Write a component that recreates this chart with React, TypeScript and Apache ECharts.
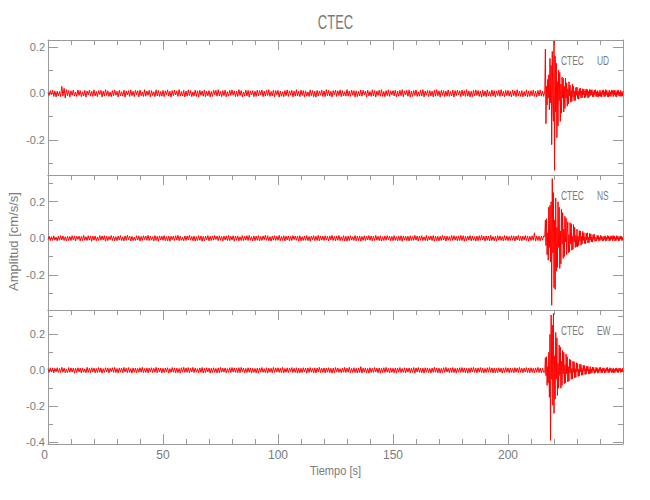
import React, { useEffect, useRef } from 'react';
import * as echarts from 'echarts';

// Sampling grid of the traces (seconds)
const NOISE_STEP = 0.5;
const BURST_START = 216;
const BURST_STEP = 0.25;

// UD component: pre-event samples t = 0..215.5 s (0.5 s apart)
const udNoise = [
  .004,-.009,.012,-.006,.014,-.013,.01,-.015,.009,-.011,.008,-.014,.03,-.012,.022,-.02,.016,-.01,.013,-.015,
  .011,-.008,.014,-.012,.006,-.013,.015,-.009,.012,-.014,.007,-.011,.013,-.016,.01,-.006,.014,-.012,.009,-.013,
  .015,-.011,.008,-.014,.012,-.005,.013,-.015,.01,-.012,.016,-.009,.011,-.013,.006,-.014,.012,-.01,.015,-.008,
  .009,-.015,.013,-.011,.007,-.012,.014,-.016,.011,-.007,.012,-.013,.015,-.01,.009,-.014,.013,-.006,.011,-.015,
  .014,-.01,.006,-.013,.016,-.012,.01,-.008,.013,-.015,.012,-.009,.007,-.014,.015,-.011,.012,-.013,.008,-.012,
  .013,-.014,.011,-.006,.015,-.012,.009,-.016,.012,-.01,.014,-.007,.011,-.013,.016,-.012,.008,-.011,.013,-.015,
  .01,-.012,.015,-.009,.012,-.014,.006,-.011,.014,-.013,.011,-.016,.013,-.008,.01,-.012,.015,-.014,.009,-.01,
  .012,-.015,.008,-.013,.014,-.006,.013,-.012,.016,-.011,.009,-.014,.012,-.01,.014,-.015,.007,-.012,.013,-.009,
  .015,-.008,.011,-.014,.01,-.013,.016,-.009,.012,-.015,.006,-.012,.014,-.011,.013,-.016,.011,-.007,.012,-.014,
  .009,-.013,.014,-.011,.012,-.007,.015,-.014,.01,-.012,.013,-.009,.016,-.013,.008,-.011,.014,-.015,.012,-.006,
  .013,-.016,.01,-.012,.007,-.014,.012,-.01,.015,-.013,.011,-.008,.013,-.015,.01,-.012,.016,-.011,.009,-.014,
  .014,-.009,.012,-.015,.011,-.012,.006,-.013,.015,-.01,.012,-.014,.009,-.016,.013,-.011,.01,-.008,.014,-.013,
  .011,-.014,.016,-.01,.013,-.012,.009,-.015,.012,-.006,.014,-.013,.011,-.009,.015,-.014,.012,-.011,.007,-.012,
  .016,-.012,.01,-.013,.014,-.008,.012,-.015,.011,-.014,.009,-.011,.015,-.012,.013,-.007,.01,-.016,.014,-.011,
  .008,-.013,.015,-.011,.012,-.016,.01,-.009,.014,-.012,.016,-.013,.008,-.014,.012,-.01,.015,-.013,.011,-.006,
  .012,-.011,.014,-.015,.009,-.012,.013,-.01,.016,-.014,.011,-.007,.013,-.012,.015,-.016,.01,-.013,.012,-.009,
  .015,-.013,.007,-.012,.014,-.011,.016,-.015,.01,-.008,.013,-.014,.012,-.011,.009,-.015,.014,-.012,.016,-.01,
  .011,-.016,.013,-.009,.012,-.014,.01,-.012,.015,-.013,.008,-.011,.014,-.016,.012,-.01,.013,-.007,.011,-.014,
  .014,-.01,.012,-.013,.016,-.012,.011,-.015,.009,-.014,.013,-.011,.015,-.009,.012,-.013,.01,-.016,.014,-.012,
  .01,-.014,.015,-.011,.008,-.013,.014,-.012,.012,-.016,.011,-.009,.014,-.013,.016,-.011,.009,-.014,.013,-.01,
  .013,-.012,.009,-.015,.014,-.01,.012,-.014,.016,-.011,.01,-.013,.012,-.015,.008,-.012,.015,-.014,.011,-.013,
  .012,-.01,.014,-.013,.009,-.015,.013,-.011,.015,-.012,.01,-.013
];
// UD component: event samples t = 216..250 s (0.25 s apart)
const udBurst = [
  .01,.19,-.13,.03,-.05,.06,-.02,.08,-.07,.15,-.04,.12,-.22,.18,-.06,-.12,.225,-.33,.16,-.08,
  .13,-.19,.05,-.14,.1,-.03,.09,-.12,.04,-.085,.07,-.02,.065,-.08,.03,-.065,.066,-.02,.045,-.055,
  .02,-.045,.05,-.01,.035,-.038,.012,-.035,.04,-.015,.03,-.032,.01,-.03,.025,-.008,.027,-.022,.01,-.025,
  .02,-.008,.023,-.02,.01,-.018,.02,-.006,.018,-.02,.012,-.017,.019,-.008,.016,-.02,.009,-.016,.017,-.01,
  .015,-.006,.016,-.014,.008,-.015,.014,-.005,.016,-.013,.007,-.015,.012,-.014,.004,-.012,.014,-.013,.006,-.016,
  .013,-.005,.015,-.014,.008,-.013,.016,-.006,.013,-.014,.005,-.015,.014,-.012,.007,-.013,.015,-.004,.012,-.014,
  .013,-.006,.014,-.013,.007,-.015,.013,-.005,.014,-.011,.006,-.013,.013,-.012,.005,-.012,.01
];

// NS component
const nsNoise = [
  -.007,.011,-.013,.009,-.012,.014,-.01,.006,-.014,.012,-.011,.015,-.009,.013,-.012,.008,-.015,.011,-.013,.01,
  -.012,.014,-.008,.013,-.015,.011,-.006,.012,-.014,.01,-.013,.016,-.011,.009,-.012,.014,-.01,.013,-.016,.012,
  -.01,.013,-.014,.007,-.012,.015,-.011,.013,-.009,.014,-.016,.012,-.013,.01,-.008,.015,-.012,.011,-.014,.009,
  -.013,.012,-.01,.015,-.012,.008,-.014,.013,-.011,.016,-.009,.012,-.015,.011,-.013,.007,-.012,.014,-.01,.013,
  -.015,.01,-.012,.014,-.007,.013,-.011,.016,-.013,.012,-.01,.009,-.014,.015,-.012,.011,-.016,.013,-.009,.012,
  -.011,.015,-.013,.009,-.014,.012,-.016,.011,-.008,.013,-.012,.014,-.01,.016,-.013,.012,-.011,.006,-.014,.013,
  -.012,.013,-.009,.016,-.011,.01,-.013,.012,-.015,.009,-.012,.014,-.011,.013,-.016,.01,-.014,.012,-.008,.015,
  -.014,.011,-.012,.013,-.01,.015,-.007,.012,-.013,.014,-.011,.01,-.015,.012,-.009,.013,-.012,.016,-.013,.011,
  -.009,.014,-.016,.012,-.011,.013,-.014,.008,-.012,.015,-.013,.011,-.01,.014,-.012,.016,-.011,.009,-.015,.013,
  -.013,.012,-.011,.015,-.014,.01,-.012,.013,-.008,.016,-.011,.014,-.013,.009,-.015,.012,-.01,.014,-.012,.011,
  -.011,.016,-.013,.01,-.012,.014,-.015,.012,-.009,.013,-.014,.011,-.012,.015,-.007,.013,-.011,.012,-.016,.014,
  -.014,.009,-.012,.013,-.011,.015,-.013,.01,-.016,.012,-.008,.014,-.013,.011,-.012,.016,-.014,.013,-.01,.012,
  -.012,.014,-.01,.011,-.015,.013,-.009,.016,-.012,.01,-.014,.013,-.011,.015,-.013,.008,-.012,.014,-.015,.011,
  -.016,.012,-.013,.014,-.01,.009,-.012,.015,-.014,.011,-.012,.013,-.016,.01,-.011,.014,-.013,.012,-.009,.015,
  -.011,.013,-.014,.012,-.012,.016,-.01,.011,-.013,.014,-.015,.009,-.012,.013,-.011,.015,-.008,.012,-.014,.01,
  -.013,.015,-.011,.009,-.014,.012,-.012,.014,-.016,.013,-.01,.012,-.013,.011,-.015,.014,-.012,.01,-.011,.016,
  -.01,.012,-.015,.013,-.011,.014,-.013,.008,-.012,.016,-.014,.011,-.009,.013,-.012,.015,-.016,.012,-.013,.01,
  -.014,.011,-.012,.016,-.009,.013,-.015,.012,-.011,.01,-.013,.015,-.012,.014,-.01,.011,-.014,.013,-.012,.016,
  -.012,.014,-.016,.011,-.013,.012,-.01,.015,-.014,.013,-.011,.009,-.015,.012,-.013,.014,-.011,.016,-.009,.012,
  -.015,.013,-.011,.012,-.014,.016,-.012,.01,-.013,.011,-.016,.014,-.01,.013,-.012,.009,-.014,.015,-.011,.013,
  -.013,.01,-.012,.014,-.011,.013,-.015,.012,-.009,.016,-.013,.011,-.014,.012,-.01,.015,-.012,.013,-.016,.011,
  -.012,.014,-.011,.03,-.015,.013,-.012,.011,-.014,.012,-.01,.013
];
const nsBurst = [
  .01,.1,-.04,.107,-.09,.03,-.12,.17,-.05,.18,-.13,.2,-.366,.326,-.08,.25,-.27,.1,-.28,.22,
  -.18,.06,-.16,.2,-.05,.17,-.165,.04,-.14,.16,-.03,.14,-.11,.05,-.1,.12,-.02,.11,-.09,.03,
  .09,-.08,.02,-.075,.085,-.03,.08,-.065,.01,-.06,.075,-.02,.06,-.05,.015,-.045,.05,-.048,.01,-.04,
  .042,-.015,.04,-.038,.01,-.03,.038,-.012,.03,-.028,.008,-.03,.028,-.01,.03,-.026,.006,-.024,.027,-.01,
  .024,-.02,.008,-.021,.02,-.006,.022,-.018,
  -.015,.006,-.014,.016,-.005,.015,-.016,.004,-.012,.016,-.007,.013,-.014,.005,-.013,.012,-.006,.014,-.016,.005,
  -.012,.015,-.004,.013,-.015,.006,-.012,.014,-.005,.012,-.014,.015,-.006,.012,-.015,.004,-.012,.014,-.005,.012,
  -.014,.006,-.012,.013,-.004,.012,-.013,.005,-.01
];

// EW component
const ewNoise = [
  .009,-.012,.014,-.01,.013,-.015,.011,-.008,.014,-.012,.01,-.013,.016,-.011,.012,-.014,.007,-.013,.015,-.011,
  .013,-.01,.012,-.016,.011,-.013,.014,-.009,.012,-.015,.013,-.011,.008,-.014,.016,-.012,.011,-.013,.014,-.01,
  .012,-.014,.01,-.013,.015,-.011,.013,-.016,.009,-.012,.014,-.01,.013,-.015,.011,-.008,.014,-.012,.016,-.013,
  .01,-.015,.013,-.011,.012,-.014,.016,-.01,.011,-.013,.015,-.012,.009,-.016,.013,-.011,.012,-.014,.01,-.012,
  .014,-.011,.016,-.013,.01,-.012,.013,-.015,.012,-.009,.014,-.013,.011,-.012,.016,-.014,.013,-.01,.012,-.015,
  .011,-.013,.012,-.01,.014,-.016,.009,-.012,.015,-.011,.013,-.014,.012,-.013,.01,-.015,.014,-.011,.016,-.012,
  .013,-.012,.015,-.014,.011,-.01,.016,-.013,.012,-.011,.009,-.014,.013,-.012,.015,-.016,.011,-.013,.014,-.009,
  .012,-.016,.011,-.013,.014,-.012,.01,-.015,.013,-.014,.016,-.011,.012,-.01,.013,-.015,.009,-.012,.014,-.013,
  .015,-.01,.013,-.012,.011,-.014,.014,-.013,.016,-.009,.012,-.015,.01,-.013,.014,-.011,.013,-.016,.011,-.012,
  .01,-.014,.012,-.015,.013,-.011,.015,-.012,.009,-.013,.014,-.016,.012,-.011,.011,-.014,.016,-.012,.013,-.01,
  .014,-.012,.011,-.013,.016,-.015,.01,-.011,.013,-.014,.012,-.009,.015,-.013,.011,-.012,.014,-.016,.012,-.014,
  .011,-.013,.014,-.01,.012,-.016,.013,-.012,.015,-.011,.01,-.014,.013,-.015,.012,-.01,.016,-.013,.011,-.012,
  .013,-.015,.012,-.011,.014,-.013,.011,-.016,.012,-.014,.015,-.01,.013,-.012,.009,-.014,.012,-.011,.016,-.013,
  .012,-.011,.016,-.014,.01,-.012,.014,-.013,.011,-.015,.013,-.012,.02,-.016,.012,-.011,.013,-.014,.01,-.015,
  .014,-.013,.011,-.012,.015,-.01,.012,-.014,.013,-.016,.011,-.013,.014,-.012,.016,-.011,.01,-.015,.013,-.012,
  .011,-.014,.013,-.016,.012,-.011,.015,-.013,.01,-.012,.014,-.015,.012,-.01,.013,-.014,.011,-.012,.015,-.016,
  .013,-.01,.015,-.012,.011,-.014,.012,-.016,.014,-.011,.013,-.013,.01,-.015,.012,-.012,.016,-.011,.013,-.014,
  .012,-.015,.01,-.013,.014,-.012,.016,-.01,.011,-.014,.013,-.012,.015,-.013,.011,-.016,.012,-.011,.014,-.012,
  .015,-.012,.013,-.014,.011,-.016,.012,-.013,.014,-.01,.016,-.012,.011,-.014,.013,-.011,.015,-.013,.012,-.015,
  .01,-.013,.014,-.011,.016,-.012,.013,-.015,.012,-.014,.011,-.013,.014,-.01,.012,-.016,.013,-.012,.015,-.011,
  .013,-.014,.012,-.012,.01,-.015,.014,-.011,.013,-.013,.016,-.012,.011,-.014,.012,-.01,.015,-.013,.012,-.014,
  .014,-.012,.011,-.015,.013,-.011,.016,-.013,.012,-.014,.011,-.012
];
const ewBurst = [
  -.01,.07,-.03,.075,-.084,.02,-.07,.1,-.15,.2,-.39,.307,-.05,.25,-.195,.316,-.24,.08,-.16,.21,
  -.05,.18,-.14,.04,-.1,.14,-.03,.13,-.1,.05,-.085,.11,-.02,.1,-.075,.03,-.07,.09,-.02,.075,
  -.065,.02,-.06,.062,-.015,.058,-.05,.01,-.048,.05,-.012,.047,-.042,.008,-.04,.042,-.01,.037,-.035,.006,
  -.032,.034,-.008,.032,-.028,.01,-.027,.028,-.006,.026,-.024,.008,-.022,.024,-.005,.022,-.02,.007,-.019,.02,
  -.017,.006,-.015,.018,-.005,.016,-.017,.004,-.013,.016,-.006,.014,-.016,.005,-.014,.015,-.004,.016,-.014,.006,
  -.015,.014,-.005,.012,-.016,.006,-.012,.014,-.004,.015,-.014,.006,-.013,.014,-.005,.012,-.013,.004,-.012,.013,
  -.014,.005,-.013,.011,-.004,.013,-.012,.005,-.013,.012,-.004,.012,-.012,.005,-.01,.012,-.01
];

const componentNames = ['UD', 'NS', 'EW'];
const yMins = [-0.35, -0.392, -0.41];
const yMaxs = [0.229, 0.346, 0.335];
const yLabelValues = [[-0.2, 0, 0.2], [-0.2, 0, 0.2], [-0.4, -0.2, 0, 0.2]];
const yTickValues = [
  [-0.3, -0.2, -0.1, 0, 0.1, 0.2],
  [-0.3, -0.2, -0.1, 0, 0.1, 0.2, 0.3],
  [-0.4, -0.3, -0.2, -0.1, 0, 0.1, 0.2, 0.3],
];
const xMin = 0;
const xMax = 250;
const xMajorTicks = [0, 50, 100, 150, 200, 250];
const xLabelValues = [0, 50, 100, 150, 200];
const xMinorTicks = [0, 10, 20, 30, 40, 50, 60, 70, 80, 90, 100, 110, 120, 130, 140, 150, 160, 170, 180, 190, 200, 210, 220, 230, 240, 250];

const noiseSets = [udNoise, nsNoise, ewNoise];
const burstSets = [udBurst, nsBurst, ewBurst];

const FONT = "'Liberation Sans', Arial, sans-serif";
const AXIS_COLOR = '#9a9a9a';
const TEXT_COLOR = '#7a7a7a';

const gridTops = [40, 175, 310];
const gridHeights = [135, 135, 134];

function buildSeries(noise: number[], burst: number[]) {
  const out: [number, number][] = [];
  noise.forEach((v, i) => out.push([i * NOISE_STEP, v]));
  burst.forEach((v, i) => out.push([BURST_START + i * BURST_STEP, v]));
  return out;
}

export default function App() {
  const ref = useRef<HTMLDivElement>(null);
  useEffect(() => {
    document.body.style.margin = '0';
    if (!ref.current) return;
    const chart = echarts.init(ref.current, undefined, { renderer: 'svg' });

    const grid: any[] = [];
    const xAxis: any[] = [];
    const yAxis: any[] = [];
    const series: any[] = [];
    const graphic: any[] = [];

    for (let i = 0; i < 3; i++) {
      grid.push({ left: 48, right: 27, top: gridTops[i], height: gridHeights[i] });
      const lineStyle = { color: AXIS_COLOR, width: 1 };
      const isBottom = i === 2;
      const hidden = { show: false };
      xAxis.push({
        type: 'value', gridIndex: i, min: xMin, max: xMax, position: 'bottom',
        axisLine: { show: true, onZero: false, lineStyle },
        axisTick: { show: isBottom, inside: true, length: 10, customValues: xMajorTicks, lineStyle },
        axisLabel: {
          show: isBottom, customValues: xLabelValues, color: TEXT_COLOR, fontFamily: FONT, fontSize: 12,
          margin: 5, alignMinLabel: 'right',
        },
        splitLine: hidden,
      });
      xAxis.push({
        type: 'value', gridIndex: i, min: xMin, max: xMax, position: 'top',
        axisLine: { show: true, onZero: false, lineStyle },
        axisTick: { show: true, inside: true, length: 10, customValues: xMajorTicks, lineStyle },
        axisLabel: hidden, splitLine: hidden,
      });
      xAxis.push({
        type: 'value', gridIndex: i, min: xMin, max: xMax, position: 'top',
        axisLine: { show: false, onZero: false },
        axisTick: { show: true, inside: true, length: 5, customValues: xMinorTicks, lineStyle },
        axisLabel: hidden, splitLine: hidden,
      });
      xAxis.push({
        type: 'value', gridIndex: i, min: xMin, max: xMax, position: 'bottom',
        axisLine: { show: false, onZero: false },
        axisTick: { show: isBottom, inside: true, length: 5, customValues: xMinorTicks, lineStyle },
        axisLabel: hidden, splitLine: hidden,
      });

      const yBase = { type: 'value', gridIndex: i, min: yMins[i], max: yMaxs[i], splitLine: hidden };
      yAxis.push({
        ...yBase, position: 'left',
        axisLine: { show: true, onZero: false, lineStyle },
        axisTick: { show: true, inside: true, length: 10, customValues: yLabelValues[i], lineStyle },
        axisLabel: {
          show: true, customValues: yLabelValues[i], color: TEXT_COLOR, fontFamily: FONT, fontSize: 11, margin: 3,
          formatter: (v: number) => v.toFixed(1),
        },
      });
      yAxis.push({
        ...yBase, position: 'left',
        axisLine: { show: false, onZero: false },
        axisTick: { show: true, inside: true, length: 5, customValues: yTickValues[i], lineStyle },
        axisLabel: hidden,
      });
      yAxis.push({
        ...yBase, position: 'right',
        axisLine: { show: true, onZero: false, lineStyle },
        axisTick: { show: true, inside: true, length: 10, customValues: yLabelValues[i], lineStyle },
        axisLabel: hidden,
      });
      yAxis.push({
        ...yBase, position: 'right',
        axisLine: { show: false, onZero: false },
        axisTick: { show: true, inside: true, length: 5, customValues: yTickValues[i], lineStyle },
        axisLabel: hidden,
      });

      series.push({
        type: 'line', xAxisIndex: 4 * i, yAxisIndex: 4 * i,
        data: buildSeries(noiseSets[i], burstSets[i]),
        showSymbol: false, symbol: 'none',
        lineStyle: { color: '#ff0000', width: 1 },
        clip: true, silent: true,
      });

      graphic.push({
        type: 'text', x: 561, y: gridTops[i] + 21, scaleX: 0.7,
        style: { text: 'CTEC', fill: TEXT_COLOR, font: `12px ${FONT}`, align: 'left', verticalAlign: 'middle' },
      });
      graphic.push({
        type: 'text', x: 597, y: gridTops[i] + 21, scaleX: 0.7,
        style: { text: componentNames[i], fill: TEXT_COLOR, font: `12px ${FONT}`, align: 'left', verticalAlign: 'middle' },
      });
    }

    graphic.push({
      type: 'text', x: 335.5, y: 22, scaleX: 0.65,
      style: { text: 'CTEC', fill: TEXT_COLOR, font: `20px ${FONT}`, align: 'center', verticalAlign: 'middle' },
    });
    graphic.push({
      type: 'text', x: 335.5, y: 471, scaleX: 0.85,
      style: { text: 'Tiempo [s]', fill: TEXT_COLOR, font: `13px ${FONT}`, align: 'center', verticalAlign: 'middle' },
    });
    graphic.push({
      type: 'text', x: 13.5, y: 241.5, rotation: Math.PI / 2,
      style: { text: 'Amplitud [cm/s/s]', fill: TEXT_COLOR, font: `13px ${FONT}`, align: 'center', verticalAlign: 'middle' },
    });

    chart.setOption({
      animation: false,
      backgroundColor: '#ffffff',
      grid, xAxis, yAxis, series, graphic,
    });
    return () => chart.dispose();
  }, []);
  return <div ref={ref} style={{ width: 650, height: 500 }} />;
}
